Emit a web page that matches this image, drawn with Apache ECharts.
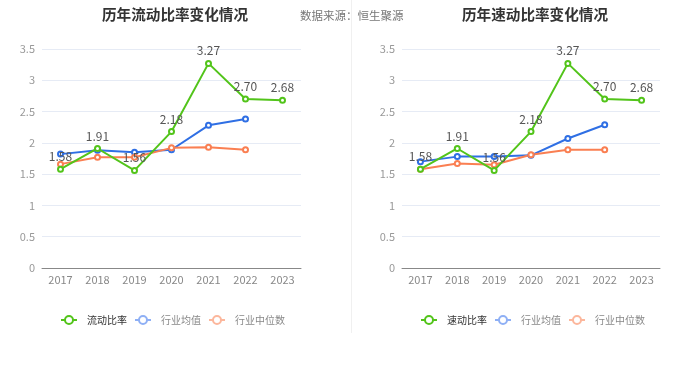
<!DOCTYPE html>
<html>
<head>
<meta charset="utf-8">
<script src="https://cdn.jsdelivr.net/npm/echarts@6/dist/echarts.min.js"></script>
<style>
  html, body { margin: 0; padding: 0; background: #fff; }
  #chart { width: 700px; height: 377px; }
</style>
</head>
<body>
<div id="chart"></div>
<script>
var years = ['2017', '2018', '2019', '2020', '2021', '2022', '2023']
var yTicks = [0, 0.5, 1, 1.5, 2, 2.5, 3, 3.5]

// 流动比率
var currentRatio = [1.58, 1.91, 1.56, 2.18, 3.27, 2.70, 2.68]
var currentAvg = [1.82, 1.88, 1.85, 1.89, 2.28, 2.38, null]
var currentMedian = [1.66, 1.77, 1.77, 1.92, 1.93, 1.89, null]

// 速动比率
var quickRatio = [1.58, 1.91, 1.56, 2.18, 3.27, 2.70, 2.68]
var quickAvg = [1.70, 1.78, 1.78, 1.80, 2.07, 2.29, null]
var quickMedian = [1.58, 1.67, 1.65, 1.81, 1.89, 1.89, null]

var green = '#52c41a'
var blue = '#2f6fe4'
var orange = '#fa7f52'
var font = '"Noto Sans CJK SC", "Noto Sans", sans-serif'

var chartDom = document.getElementById('chart')
var myChart = echarts.init(chartDom)

function xAxis(idx) {
  return {
    type: 'category',
    gridIndex: idx,
    data: years,
    axisLine: { lineStyle: { color: '#888' } },
    axisTick: { alignWithLabel: true, lineStyle: { color: '#888' } },
    axisLabel: { color: '#888', fontSize: 11, fontFamily: font, margin: 6 },
  }
}
function yAxis(idx) {
  return {
    type: 'value',
    gridIndex: idx,
    min: yTicks[0],
    max: yTicks[yTicks.length - 1],
    interval: 0.5,
    axisLine: { show: false },
    axisTick: { show: false },
    axisLabel: { color: '#999', fontSize: 11, fontFamily: font, margin: 7 },
    splitLine: { lineStyle: { color: '#e6ebf5' } },
  }
}
function line(name, data, color, idx, withLabel) {
  return {
    name: name,
    type: 'line',
    xAxisIndex: idx,
    yAxisIndex: idx,
    data: data,
    symbol: 'emptyCircle',
    symbolSize: 5,
    lineStyle: { width: 2, color: color },
    itemStyle: { color: color },
    label: withLabel ? {
      show: true, position: 'top', distance: 3, color: '#555', fontSize: 12, fontFamily: font,
      formatter: function (p) { return p.value.toFixed(2) },
    } : { show: false },
    z: withLabel ? 3 : 2,
  }
}
function legend(left, mainName) {
  var items = [
    { name: mainName, textStyle: { color: '#333' } },
    { name: '行业均值', itemStyle: { color: '#8fb0f5' }, lineStyle: { color: '#8fb0f5' } },
    { name: '行业中位数', itemStyle: { color: '#fcb79c' }, lineStyle: { color: '#fcb79c' } },
  ]
  return {
    left: left,
    top: 315,
    padding: 0,
    data: items,
    itemWidth: 16,
    itemHeight: 10,
    itemGap: 7,
    textStyle: { color: '#888', fontSize: 10, fontFamily: font, padding: [0, 0, 0, 5] },
  }
}

var option = {
  backgroundColor: '#fff',
  animation: false,
  title: [
    { text: '历年流动比率变化情况', left: 170, top: 2, textAlign: 'center',
      textStyle: { fontSize: 14.6, fontWeight: 'bold', color: '#333', fontFamily: font } },
    { text: '历年速动比率变化情况', left: 530, top: 2, textAlign: 'center',
      textStyle: { fontSize: 14.6, fontWeight: 'bold', color: '#333', fontFamily: font } },
    { text: '数据来源：恒生聚源', left: 295, top: 5,
      textStyle: { fontSize: 11.5, fontWeight: 'normal', color: '#777', fontFamily: font } },
  ],
  graphic: [
    { type: 'line', shape: { x1: 351.5, y1: 0, x2: 351.5, y2: 333 }, style: { stroke: '#f0f0f0', lineWidth: 1 } },
  ],
  legend: [legend(60, '流动比率'), legend(420, '速动比率')],
  grid: [
    { left: 42, top: 49, width: 259, height: 219 },
    { left: 402, top: 49, width: 258, height: 219 },
  ],
  xAxis: [xAxis(0), xAxis(1)],
  yAxis: [yAxis(0), yAxis(1)],
  series: [
    line('流动比率', currentRatio, green, 0, true),
    line('行业均值', currentAvg, blue, 0, false),
    line('行业中位数', currentMedian, orange, 0, false),
    line('速动比率', quickRatio, green, 1, true),
    line('行业均值', quickAvg, blue, 1, false),
    line('行业中位数', quickMedian, orange, 1, false),
  ],
}

option && myChart.setOption(option)
</script>
</body>
</html>
